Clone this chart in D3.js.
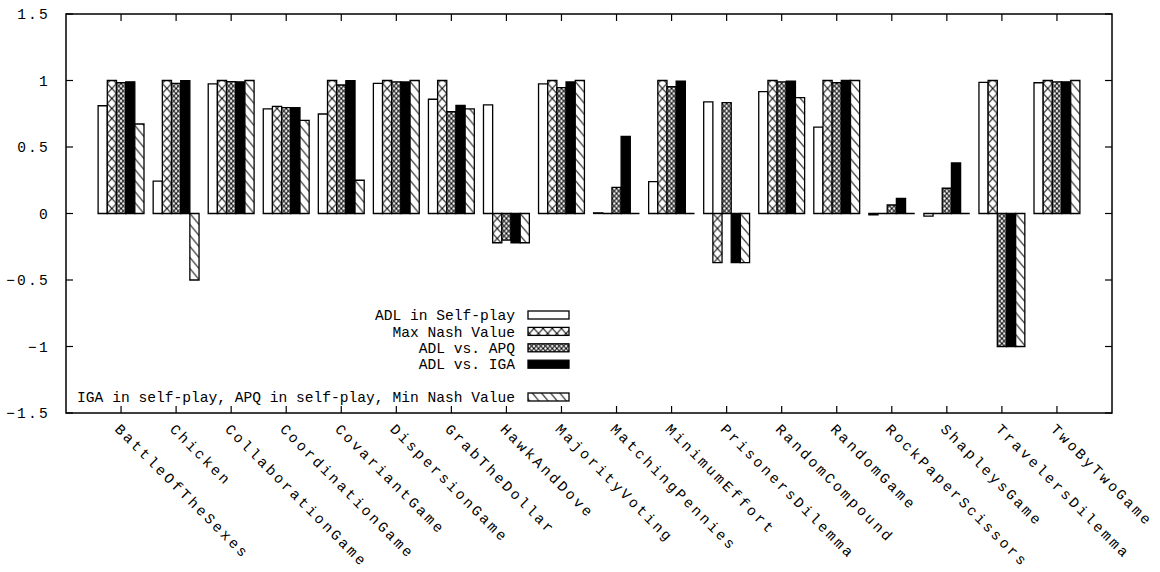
<!DOCTYPE html>
<html>
<head>
<meta charset="utf-8">
<script src="https://cdn.jsdelivr.net/npm/d3@7"></script>
<style>
  html, body { margin: 0; padding: 0; background: #fff; }
  svg text { font-family: "Liberation Mono", "DejaVu Sans Mono", monospace; font-size: 14.6px; fill: #000; }
</style>
</head>
<body>
<svg id="chart" width="1160" height="572"></svg>
<script>
// game categories along x
const games = ['BattleOfTheSexes', 'Chicken', 'CollaborationGame', 'CoordinationGame', 'CovariantGame',
  'DispersionGame', 'GrabTheDollar', 'HawkAndDove', 'MajorityVoting', 'MatchingPennies', 'MinimumEffort',
  'PrisonersDilemma', 'RandomCompound', 'RandomGame', 'RockPaperScissors', 'ShapleysGame',
  'TravelersDilemma', 'TwoByTwoGame'];

// one array per series
const adlSelf  = [0.81, 0.244, 0.974, 0.786, 0.748, 0.979, 0.859, 0.816, 0.974, 0.005, 0.239, 0.84, 0.916, 0.65, -0.01, -0.02, 0.986, 0.983];
const maxNash  = [1, 1, 1, 0.806, 1, 1, 1, -0.22, 1, 0, 1, -0.37, 1, 1, 0, 0, 1, 1];
const adlVsApq = [0.983, 0.979, 0.991, 0.796, 0.966, 0.989, 0.765, -0.2, 0.946, 0.197, 0.953, 0.833, 0.99, 0.983, 0.064, 0.19, -1, 0.99];
const adlVsIga = [0.99, 0.998, 0.99, 0.796, 0.998, 0.989, 0.813, -0.22, 0.989, 0.58, 0.996, -0.37, 0.996, 1, 0.114, 0.38, -1, 0.99];
const minNash  = [0.673, -0.5, 1, 0.7, 0.25, 1, 0.786, -0.22, 1, 0, 0, -0.37, 0.871, 1, 0, 0, -1, 1];

const seriesTitles = ['ADL in Self-play', 'Max Nash Value', 'ADL vs. APQ', 'ADL vs. IGA',
  'IGA in self-play, APQ in self-play, Min Nash Value'];
const seriesValues = [adlSelf, maxNash, adlVsApq, adlVsIga, minNash];
const yTicks = [1.5, 1, 0.5, 0, -0.5, -1, -1.5];

// ── layout (gnuplot-ish frame)
const L = 66, R = 1112, T = 14, B = 413;
const svg = d3.select('#chart');
const x = d3.scaleLinear().domain([-1, games.length]).range([L, R]);
const y = d3.scaleLinear().domain([-1.5, 1.5]).range([B, T]);
const nS = seriesValues.length;
const bw = x(1) - x(0) - (x(1) - x(0)) * 5 / 6; // 1/6 of a slot (gap 1)
const barLeft = (i, s) => x(i + (s - 2) / 6 - 1 / 12);

// ── fill patterns: empty, big crosshatch, fine crosshatch, solid, "\" lines
const defs = svg.append('defs');
function pat(id, s, w, h, draw) {
  const p = defs.append('pattern').attr('id', id)
    .attr('patternUnits', 'userSpaceOnUse')
    .attr('x', barLeft(0, s)).attr('y', y(0))
    .attr('width', w).attr('height', h);
  p.append('rect').attr('width', w).attr('height', h).attr('fill', '#fff');
  draw(p, w, h);
}
const ln = (p, d) => p.append('path').attr('d', d).attr('stroke', '#000').attr('stroke-width', 1).attr('fill', 'none');
pat('p-cross', 1, bw, 10, (p, w, h) => {
  ln(p, `M0,0L${w},${h}M${w},0L0,${h}`);
});
pat('p-fine', 2, bw / 2, 5, (p, w, h) => {
  ln(p, `M0,0L${w},${h}M${w},0L0,${h}`);
});
pat('p-diag', 4, bw, 11, (p, w, h) => {
  ln(p, `M0,0L${w},${h}M${-w},0L0,${h}M0,${-h}L${w},0`);
});
const fills = ['#fff', 'url(#p-cross)', 'url(#p-fine)', '#000', 'url(#p-diag)'];

// ── bars (paths so zero-height boxes still show their outline)
const bars = [];
seriesValues.forEach((vals, s) => vals.forEach((v, i) => bars.push({ s, i, v })));
svg.append('g').selectAll('path').data(bars).join('path')
  .attr('d', d => {
    const x0 = barLeft(d.i, d.s), x1 = x0 + bw;
    return `M${x0},${y(0)}V${y(d.v)}H${x1}V${y(0)}Z`;
  })
  .attr('fill', d => fills[d.s])
  .attr('stroke', '#000')
  .attr('stroke-width', 1.3);

// ── ticks (inward, mirrored on top/right like gnuplot)
const tk = svg.append('g').attr('stroke', '#000').attr('stroke-width', 1.2);
yTicks.forEach(t => {
  tk.append('line').attr('x1', L).attr('x2', L + 7).attr('y1', y(t)).attr('y2', y(t));
  tk.append('line').attr('x1', R).attr('x2', R - 7).attr('y1', y(t)).attr('y2', y(t));
});
games.forEach((g, i) => {
  tk.append('line').attr('x1', x(i)).attr('x2', x(i)).attr('y1', B).attr('y2', B - 7);
  tk.append('line').attr('x1', x(i)).attr('x2', x(i)).attr('y1', T).attr('y2', T + 7);
});

// y tick labels
svg.append('g').selectAll('text').data(yTicks).join('text')
  .attr('x', 50).attr('y', d => y(d)).attr('dy', '0.35em')
  .attr('text-anchor', 'end')
  .style('letter-spacing', '2.2px')
  .text(d => d3.format('')(d));

// rotated x labels
svg.append('g').selectAll('text').data(games).join('text')
  .attr('transform', (d, i) => `translate(${x(i) - 7},${B + 17}) rotate(45)`)
  .style('letter-spacing', '2.7px')
  .text(d => d);

// ── legend (right-aligned titles, sample boxes; one blank row before the last)
const keyRows = [0, 1, 2, 3, 5];
const key = svg.append('g');
seriesTitles.forEach((t, s) => {
  const cy = 315 + keyRows[s] * 16.4;
  key.append('text').attr('x', 515).attr('y', cy).attr('dy', '0.35em')
    .attr('text-anchor', 'end').text(t);
  key.append('rect').attr('x', 528).attr('y', cy - 4).attr('width', 41).attr('height', 8)
    .attr('fill', fills[s]).attr('stroke', '#000').attr('stroke-width', 1.3);
});

// frame
svg.append('rect').attr('x', L).attr('y', T).attr('width', R - L).attr('height', B - T)
  .attr('fill', 'none').attr('stroke', '#000').attr('stroke-width', 1.5);
</script>
</body>
</html>
